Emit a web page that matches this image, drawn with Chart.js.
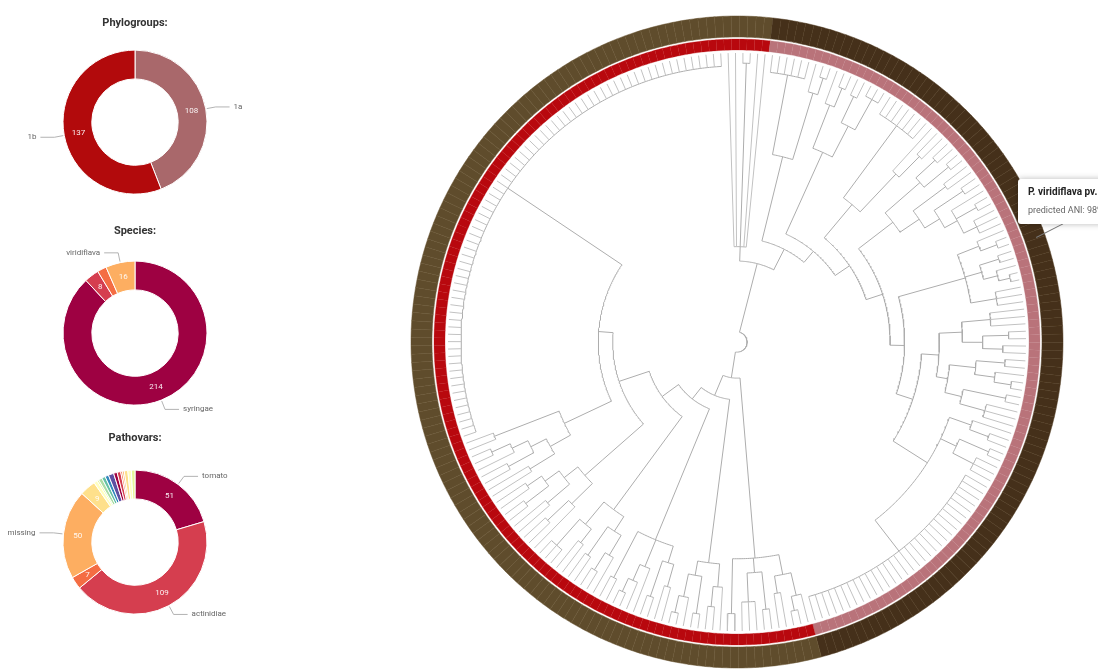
<!DOCTYPE html>
<html>
<head>
<meta charset="utf-8">
<script src="https://cdn.jsdelivr.net/npm/chart.js@4/dist/chart.umd.min.js"></script>
<style>
  html, body { margin: 0; padding: 0; background: #fff; }
  body { width: 1098px; height: 671px; overflow: hidden; position: relative; font-family: Roboto, "Noto Sans", sans-serif; }
  canvas { position: absolute; }
  #pointer {
    position: absolute; left: 1036px; top: 237px; width: 30px; height: 0;
    border-top: 1px solid #7a7a7a; transform-origin: 0 0; transform: rotate(-27deg);
  }
  #tip {
    position: absolute; left: 1018px; top: 179px; width: 160px; height: 45px;
    background: #fff; border-radius: 3px; box-shadow: 0 0 6px rgba(0,0,0,0.28);
    box-sizing: border-box; padding: 7px 0 0 10px; white-space: nowrap;
  }
  #tip .t1 { font-size: 10px; font-weight: bold; color: #222; }
  #tip .t2 { font-size: 9px; color: #666; margin-top: 8px; }
</style>
</head>
<body>
<canvas id="phylo" width="270" height="214" style="left:0;top:0"></canvas>
<canvas id="species" width="270" height="220" style="left:0;top:208px"></canvas>
<canvas id="pathovars" width="270" height="224" style="left:0;top:415px"></canvas>
<canvas id="tree" width="660" height="660" style="left:407px;top:12px"></canvas>
<canvas id="rings" width="660" height="660" style="left:407px;top:12px"></canvas>
<div id="pointer"></div>
<div id="tip"><div class="t1">P. viridiflava pv.</div><div class="t2">predicted ANI: 98%</div></div>
<script>
// ---------- donut data ----------
const phyloLabels = ['1a', '1b'];
const phyloCounts = [108, 137];
const phyloColors = ['#a9686b', '#b20a0c'];

const speciesLabels = ['syringae', '', '', 'viridiflava'];
const speciesCounts = [214, 8, 5, 16];

const pathovarLabels = ['tomato', 'actinidiae', '', 'missing', '', '', '', '', '', '', '', '', '', '', '', '', '', ''];
const pathovarCounts = [51, 109, 7, 50, 9, 2, 1, 2, 2, 2, 3, 2, 2, 1, 1, 2, 2, 2];

const spectral = ['#9e0142', '#d53e4f', '#f46d43', '#fdae61', '#fee08b', '#ffffbf',
                  '#e6f598', '#abdda4', '#66c2a5', '#3288bd', '#5e4fa2'];

// ---------- tree data ----------
// node = [height, ...children]; a bare number n = n leaves hanging from that node.
// heights run from 0 (root) to 1 (leaf tips).
const topGroup = [0.33, 1, 1, [0.965, 1, 1], 1, 1];

const c1 = [0.66, [0.94, 6], [0.9, 1, [0.96, 1, 1]]];
const c2 = [0.72, [0.88, 1, [0.95, 1, 1]], [0.84, [0.94, 1, 1], [0.96, 1, 1, 1]]];
const c3 = [0.62, [0.93, 7], [0.8, 1, [0.9, 1, 1]]];
const c4 = [0.68, [0.84, [0.93, 1, 1], [0.95, 1, 1]],
                  [0.76, [0.9, 1, 1], [0.82, [0.94, 1, 1], [0.87, 1, [0.95, 1, 1], [0.92, 1, 1, 1]]]]];
const c5 = [0.82, [0.9, 1, [0.96, 1, 1]], [0.88, [0.95, 1, 1], [0.93, 1, [0.97, 1, 1]]], [0.91, 1, 1, 1]];
const c6 = [0.7, [0.78, [0.88, 1, 1, 1], [0.85, [0.94, 1, 1], [0.92, 1, 1]]],
                 [0.74, [0.83, [0.93, 1, 1], [0.9, 1, [0.96, 1, 1]]], [0.8, [0.95, 1, 1], [0.89, 1, 1, 1]]]];
const c7 = [0.78, [0.86, 1, [0.93, 1, 1]], [0.84, [0.95, 1, 1], [0.92, 1, 1, 1]], [0.915, 31]];
const clade1a = [0.36, c1, [0.41, c2, [0.47, c3, [0.53, c4, [0.58, c5, [0.64, c6, c7]]]]]];

const b1 = [0.75, [0.82, [0.9, 1, [0.95, 1, 1]], [0.88, 1, 1]], [0.8, [0.93, 1, 1], [0.9, 1, 1, 1]], [0.94, 1, 1]];
const b2 = [0.77, [0.85, 1, [0.92, 1, 1]], [0.82, [0.95, 1, 1], [0.9, 1, [0.96, 1, 1]]]];
const b3 = [0.74, [0.8, [0.88, 1, 1], [0.93, 1, 1]], [0.84, 1, [0.9, 1, [0.95, 1, 1]]], [0.92, 1, 1]];
const b4 = [0.72, [0.78, [0.86, 1, [0.93, 1, 1]], [0.9, 1, 1]], [0.82, [0.88, 1, 1], [0.94, 1, 1, 1]]];
const b5 = [0.62, [0.7, [0.8, 1, [0.9, 1, 1]], [0.76, [0.86, 1, 1], [0.82, [0.92, 1, 1], [0.88, 1, 1]]]]];
const b6 = [0.66, [0.74, [0.84, 1, 1], [0.8, [0.9, 1, 1], [0.86, 1, [0.93, 1, 1]]]], [0.9, 1, 1]];
const comb1b = [0.955, 73];
const clade1b = [0.125, b1, [0.2, b2, [0.25, b3, [0.32, b4, [0.43, b5, [0.48, b6, comb1b]]]]]];

const treeRoot = [0.035, [0.28, topGroup, clade1a], clade1b];
const groupOf = new Map([[clade1a, '1a'], [clade1b, '1b'], [topGroup, '1b']]);

// ---------- tree layout ----------
const leafGroups = [];
function build(node, group) {
  if (groupOf.has(node)) group = groupOf.get(node);
  const [h, ...kids] = node;
  const out = { h, kids: [] };
  for (const k of kids) {
    if (typeof k === 'number') {
      for (let j = 0; j < k; j++) { out.kids.push({ leaf: true, idx: leafGroups.length }); leafGroups.push(group); }
    } else out.kids.push(build(k, group));
  }
  return out;
}
const tree = build(treeRoot, '1b');
const nLeaves = leafGroups.length;
const startDeg = -2.5;
const step = 360 / nLeaves;
const rad = d => d * Math.PI / 180;

function setAngles(n) {
  if (n.leaf) { n.a = startDeg + (n.idx + 0.5) * step; return n.a; }
  let s = 0;
  n.kids.forEach(k => { s += setAngles(k); });
  n.a = s / n.kids.length;
  return n.a;
}
setAngles(tree);

const P = (r, deg) => ({ x: r * Math.sin(rad(deg)), y: r * Math.cos(rad(deg)) });
const GAP = { x: null, y: null };
const leafPts = [], branchPts = [];
function collect(n) {
  const a0 = n.kids[0].a, a1 = n.kids[n.kids.length - 1].a;
  const steps = Math.max(2, Math.ceil(Math.abs(a1 - a0) / 0.5));
  for (let i = 0; i <= steps; i++) branchPts.push(P(n.h, a0 + (a1 - a0) * i / steps));
  branchPts.push(GAP);
  n.kids.forEach(k => {
    if (k.leaf) { leafPts.push(P(n.h, k.a), P(1, k.a), GAP); }
    else { branchPts.push(P(n.h, k.a), P(k.h, k.a), GAP); collect(k); }
  });
}
collect(tree);

// ---------- tree chart ----------
const EXT = 330 / 289;
new Chart(document.getElementById('tree'), {
  type: 'scatter',
  data: {
    datasets: [
      { data: leafPts, showLine: true, spanGaps: false, borderColor: '#c2c2c2', borderWidth: 1, pointRadius: 0 },
      { data: branchPts, showLine: true, spanGaps: false, borderColor: '#adadad', borderWidth: 1, pointRadius: 0 }
    ]
  },
  options: {
    responsive: false, animation: false, events: [],
    layout: { padding: 0 },
    elements: { line: { tension: 0 } },
    scales: {
      x: { type: 'linear', min: -EXT, max: EXT, display: false },
      y: { type: 'linear', min: -EXT, max: EXT, display: false }
    },
    plugins: { legend: { display: false }, tooltip: { enabled: false } }
  }
});

// ---------- leaf rings ----------
const ones = leafGroups.map(() => 1);
new Chart(document.getElementById('rings'), {
  type: 'doughnut',
  data: {
    labels: leafGroups,
    datasets: [
      { data: ones, weight: 21, borderWidth: 0.5,
        backgroundColor: leafGroups.map(g => g === '1a' ? '#45301a' : '#5f4c2c'),
        borderColor: leafGroups.map(g => g === '1a' ? '#4e381f' : '#685432') },
      { data: [1], weight: 2, backgroundColor: 'rgba(0,0,0,0)', borderWidth: 0 },
      { data: ones, weight: 11, borderWidth: 0.3,
        backgroundColor: leafGroups.map(g => g === '1a' ? '#b9737a' : '#b8080e'),
        borderColor: leafGroups.map(g => g === '1a' ? '#bf7b82' : '#bf1016') }
    ]
  },
  options: {
    responsive: false, animation: false, events: [],
    rotation: startDeg, radius: 326, cutout: (292 / 326 * 100) + '%',
    layout: { padding: 0 },
    plugins: { legend: { display: false }, tooltip: { enabled: false } }
  }
});

// ---------- donuts ----------
const donutLabels = {
  id: 'donutLabels',
  afterDatasetsDraw(chart) {
    const { ctx } = chart;
    const labels = chart.data.labels;
    const values = chart.data.datasets[0].data;
    ctx.save();
    ctx.font = '8px Roboto, sans-serif';
    ctx.textBaseline = 'middle';
    chart.getDatasetMeta(0).data.forEach((arc, i) => {
      const { x, y, startAngle, endAngle, innerRadius, outerRadius } =
        arc.getProps(['x', 'y', 'startAngle', 'endAngle', 'innerRadius', 'outerRadius'], true);
      const span = (endAngle - startAngle) * 180 / Math.PI;
      const mid = (startAngle + endAngle) / 2;
      const c = Math.cos(mid), s = Math.sin(mid);
      if (span >= 9) {
        const rm = (innerRadius + outerRadius) / 2;
        ctx.fillStyle = 'rgba(255,255,255,0.92)';
        ctx.textAlign = 'center';
        ctx.fillText(String(values[i]), x + c * rm, y + s * rm);
      }
      if (labels[i] && span >= 15) {
        const x0 = x + c * (outerRadius + 1), y0 = y + s * (outerRadius + 1);
        const x1 = x + c * (outerRadius + 10), y1 = y + s * (outerRadius + 10);
        const dir = c >= 0 ? 1 : -1;
        const x2 = x1 + dir * 14;
        ctx.strokeStyle = '#a0a0a0'; ctx.lineWidth = 0.8;
        ctx.beginPath(); ctx.moveTo(x0, y0); ctx.lineTo(x1, y1); ctx.lineTo(x2, y1); ctx.stroke();
        ctx.fillStyle = '#666';
        ctx.textAlign = dir > 0 ? 'left' : 'right';
        ctx.fillText(labels[i], x2 + dir * 4, y1);
      }
    });
    ctx.restore();
  }
};

function donut(id, title, labels, counts, colors) {
  return new Chart(document.getElementById(id), {
    type: 'doughnut',
    data: { labels, datasets: [{ data: counts, backgroundColor: colors, borderColor: '#fff', borderWidth: 1 }] },
    options: {
      responsive: false, animation: false, events: [],
      radius: 72, cutout: '60%',
      layout: { padding: 0 },
      plugins: {
        legend: { display: false }, tooltip: { enabled: false },
        title: { display: true, text: title, color: '#333',
                 font: { family: 'Roboto', size: 11, weight: 'bold' }, padding: { top: 17, bottom: 0 } }
      }
    },
    plugins: [donutLabels]
  });
}
donut('phylo', 'Phylogroups:', phyloLabels, phyloCounts, phyloColors);
donut('species', 'Species:', speciesLabels, speciesCounts, speciesCounts.map((_, i) => spectral[i % spectral.length]));
donut('pathovars', 'Pathovars:', pathovarLabels, pathovarCounts, pathovarCounts.map((_, i) => spectral[i % spectral.length]));
</script>
</body>
</html>
